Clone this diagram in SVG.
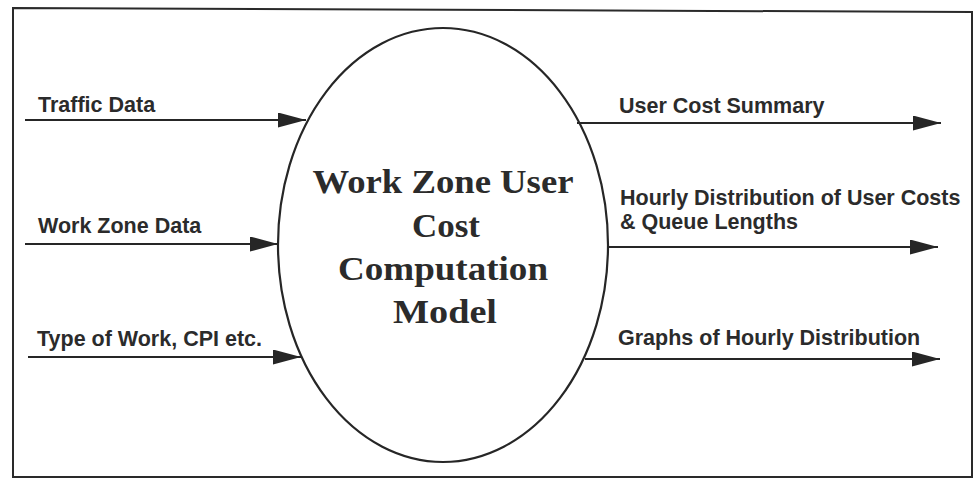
<svg xmlns="http://www.w3.org/2000/svg" width="974" height="479" viewBox="0 0 974 479">
  <style>
    .frame { fill: none; stroke: #2a2a2a; stroke-width: 2; }
    .node { fill: #ffffff; stroke: #262626; stroke-width: 2.2; }
    .conn { stroke: #262626; stroke-width: 2.2; fill: none; }
    .lbl { font-family: "Liberation Sans", Arial, sans-serif; font-weight: bold; font-size: 21.5px; fill: #2b2b2b; }
    .title { font-family: "Liberation Serif", "Times New Roman", serif; font-weight: bold; font-size: 34px; fill: #2b2b2b; text-anchor: middle; }
  </style>
  <defs>
    <marker id="arrow" markerUnits="userSpaceOnUse" markerWidth="30" markerHeight="16" refX="28" refY="7.5" orient="auto">
      <path d="M0,0 L28,7.5 L0,15 Z" fill="#262626"/>
    </marker>
  </defs>
  <rect width="974" height="479" fill="#ffffff"/>
  <polygon class="frame" points="13,8 972,12 972,477 13,477"/>

  <g id="model">
    <ellipse class="node" cx="443" cy="245" rx="165" ry="217"/>
    <text class="title" x="443" y="193" textLength="261" lengthAdjust="spacingAndGlyphs">Work Zone User</text>
    <text class="title" x="446" y="237" textLength="68" lengthAdjust="spacingAndGlyphs">Cost</text>
    <text class="title" x="443" y="280" textLength="210" lengthAdjust="spacingAndGlyphs">Computation</text>
    <text class="title" x="445" y="323" textLength="104" lengthAdjust="spacingAndGlyphs">Model</text>
  </g>

  <g id="connectors">
    <line class="conn" x1="25" y1="120" x2="306" y2="120" marker-end="url(#arrow)"/>
    <line class="conn" x1="25" y1="244" x2="278" y2="244" marker-end="url(#arrow)"/>
    <line class="conn" x1="28" y1="357" x2="301" y2="357" marker-end="url(#arrow)"/>
    <line class="conn" x1="577" y1="123" x2="941" y2="123" marker-end="url(#arrow)"/>
    <line class="conn" x1="608" y1="247" x2="938" y2="247" marker-end="url(#arrow)"/>
    <line class="conn" x1="585" y1="359" x2="940" y2="359" marker-end="url(#arrow)"/>
  </g>

  <g id="in-traffic"><text class="lbl" x="38" y="112">Traffic Data</text></g>
  <g id="in-workzone"><text class="lbl" x="38" y="233">Work Zone Data</text></g>
  <g id="in-type"><text class="lbl" x="37" y="346">Type of Work, CPI etc.</text></g>
  <g id="out-summary"><text class="lbl" x="619" y="113">User Cost Summary</text></g>
  <g id="out-hourly">
    <text class="lbl" x="620" y="205">Hourly Distribution of User Costs</text>
    <text class="lbl" x="620" y="229">&amp; Queue Lengths</text>
  </g>
  <g id="out-graphs"><text class="lbl" x="618" y="345">Graphs of Hourly Distribution</text></g>
</svg>
